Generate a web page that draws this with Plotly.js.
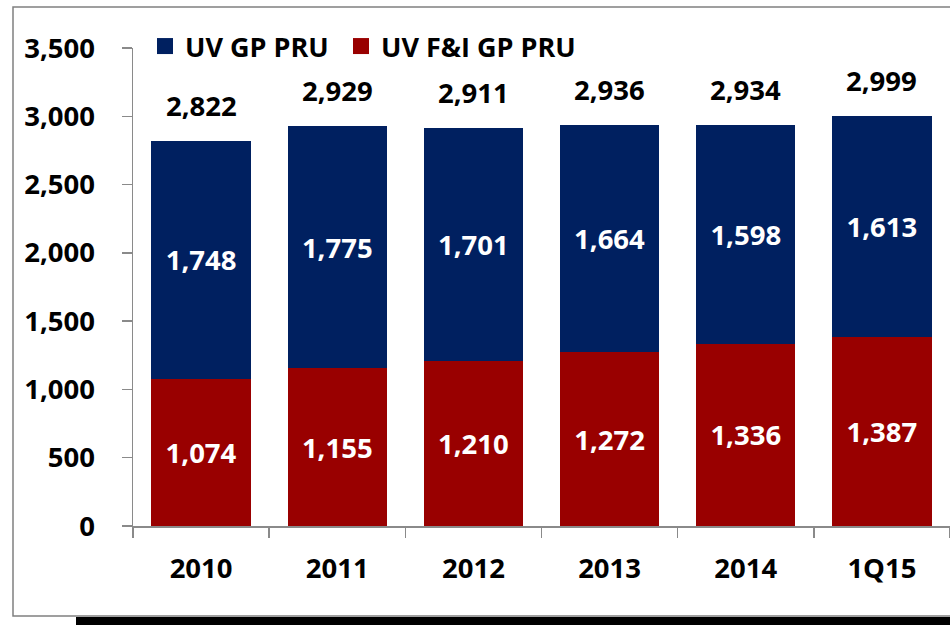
<!DOCTYPE html>
<html>
<head>
<meta charset="utf-8">
<script src="https://cdn.plot.ly/plotly-3.0.1.min.js"></script>
<style>html,body{margin:0;padding:0;background:#fff;}#chart{width:950px;height:625px;}</style>
</head>
<body>
<div id="chart"></div>
<script>
const categories = ["2010", "2011", "2012", "2013", "2014", "1Q15"];
const fiGP = [1074, 1155, 1210, 1272, 1336, 1387];
const uvGP = [1748, 1775, 1701, 1664, 1598, 1613];
const totals = [2822, 2929, 2911, 2936, 2934, 2999];
const seriesNames = ["UV GP PRU", "UV F&I GP PRU"];
const yTicks = [0, 500, 1000, 1500, 2000, 2500, 3000, 3500];

const NAVY = "#002060";
const RED = "#990000";
const FONT = "'Open Sans', Lato, sans-serif";
const FS = 27.5;
const fmt = v => v.toLocaleString("en-US");

const traces = [
  {
    type: "bar", x: categories, y: fiGP, name: seriesNames[1], showlegend: false,
    marker: {color: RED},
    text: fiGP.map(fmt), textposition: "inside", insidetextanchor: "middle",
    textangle: 0, constraintext: "none",
    textfont: {color: "#fff", size: FS, family: FONT, weight: 700},
    hoverinfo: "skip"
  },
  {
    type: "bar", x: categories, y: uvGP, name: seriesNames[0], showlegend: false,
    marker: {color: NAVY},
    text: uvGP.map(fmt), textposition: "inside", insidetextanchor: "middle",
    textangle: 0, constraintext: "none",
    textfont: {color: "#fff", size: FS, family: FONT, weight: 700},
    hoverinfo: "skip"
  },
  {type: "scatter", mode: "markers", x: [null], y: [null], name: seriesNames[0],
   legend: "legend", marker: {symbol: "square", size: 16, color: NAVY}},
  {type: "scatter", mode: "markers", x: [null], y: [null], name: seriesNames[1],
   legend: "legend2", marker: {symbol: "square", size: 16, color: RED}}
];

const annotations = categories.map((c, i) => ({
  x: i, y: totals[i], xref: "x", yref: "y", text: fmt(totals[i]),
  showarrow: false, yanchor: "bottom", yshift: 15,
  font: {size: FS, family: FONT, color: "#000", weight: 700}
}));

const px = v => (v - 133) / 817;
const py = v => (526 - v) / 478;

const legendBase = {
  xanchor: "left", yanchor: "top", itemwidth: 30, bgcolor: "rgba(0,0,0,0)",
  font: {size: 27, family: FONT, color: "#000", weight: 700}
};

const layout = {
  width: 950, height: 625,
  margin: {l: 133, r: 0, t: 48, b: 99, pad: 0},
  paper_bgcolor: "#fff", plot_bgcolor: "#fff",
  barmode: "stack", bargap: 0.27,
  showlegend: true,
  legend: Object.assign({x: px(145), y: py(22)}, legendBase),
  legend2: Object.assign({x: px(341), y: py(22)}, legendBase),
  xaxis: {
    type: "category", range: [-0.5, 5.5], showline: true, linecolor: "#8a8a8a", linewidth: 1.5,
    ticks: "outside", tickson: "boundaries", ticklen: 10, tickcolor: "#8a8a8a", tickwidth: 1.5,
    ticklabelstandoff: 17, showgrid: false, zeroline: false,
    tickfont: {size: FS, family: FONT, color: "#000", weight: 700}, fixedrange: true
  },
  yaxis: {
    range: [0, 3500], tickvals: yTicks, ticktext: yTicks.map(fmt),
    showline: true, linecolor: "#8a8a8a", linewidth: 1.5,
    ticks: "outside", ticklen: 10, tickcolor: "#8a8a8a", tickwidth: 1.5,
    ticklabelstandoff: 21, showgrid: false, zeroline: false,
    tickfont: {size: FS, family: FONT, color: "#000", weight: 700}, fixedrange: true
  },
  annotations: annotations,
  shapes: [
    {type: "rect", xref: "paper", yref: "paper", x0: px(13), x1: px(955), y0: py(616), y1: py(7),
     line: {color: "#808080", width: 1.5}, fillcolor: "rgba(0,0,0,0)", layer: "below"},
    {type: "rect", xref: "paper", yref: "paper", x0: px(76), x1: px(955), y0: py(630), y1: py(617),
     line: {width: 0}, fillcolor: "#000", layer: "above"}
  ]
};

Plotly.newPlot("chart", traces, layout, {displayModeBar: false, staticPlot: true});
</script>
</body>
</html>
